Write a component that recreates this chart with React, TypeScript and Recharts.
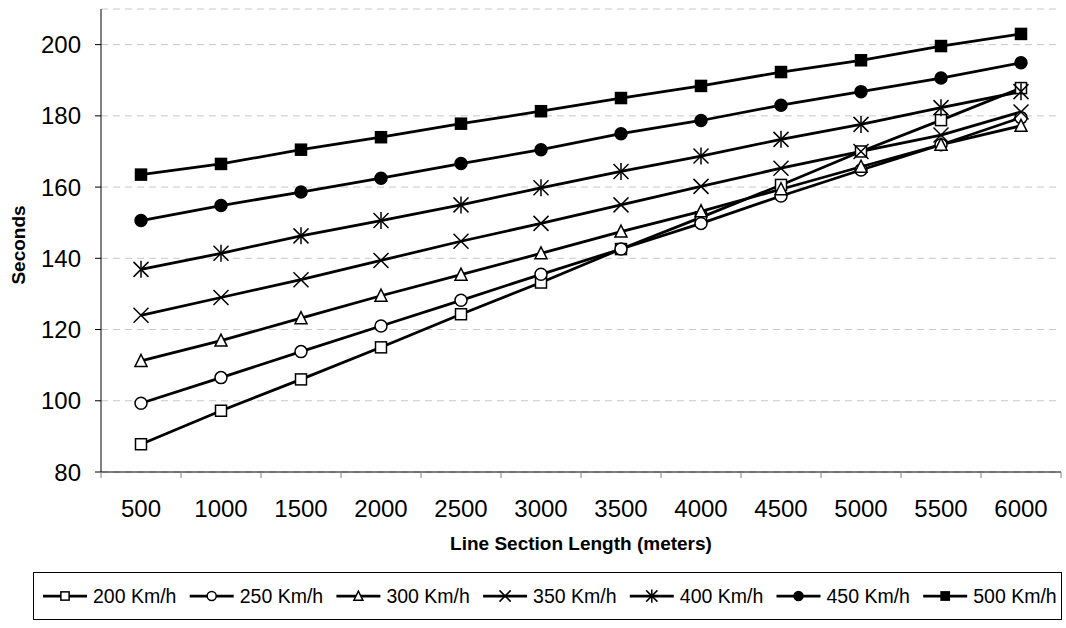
import React from 'react';
import { LineChart, Line, XAxis, YAxis, CartesianGrid, Legend } from 'recharts';

const lengths = [500, 1000, 1500, 2000, 2500, 3000, 3500, 4000, 4500, 5000, 5500, 6000];
const s200 = [87.8, 97.2, 106.0, 115.0, 124.3, 133.2, 142.6, 151.5, 160.6, 170.0, 178.8, 187.8];
const s250 = [99.3, 106.5, 113.8, 121.0, 128.2, 135.5, 142.6, 149.8, 157.5, 164.8, 171.9, 179.5];
const s300 = [111.2, 116.9, 123.2, 129.5, 135.4, 141.4, 147.5, 153.2, 159.4, 165.7, 171.9, 177.2];
const s350 = [124.0, 129.0, 134.0, 139.4, 144.8, 149.8, 155.0, 160.2, 165.3, 170.0, 174.6, 181.1];
const s400 = [136.9, 141.4, 146.3, 150.6, 155.0, 159.8, 164.4, 168.7, 173.4, 177.6, 182.3, 186.8];
const s450 = [150.6, 154.8, 158.6, 162.5, 166.6, 170.5, 175.0, 178.7, 183.0, 186.8, 190.6, 194.9];
const s500 = [163.5, 166.5, 170.5, 174.0, 177.8, 181.3, 185.0, 188.4, 192.3, 195.6, 199.6, 203.0];

const seriesNames = ['200 Km/h', '250 Km/h', '300 Km/h', '350 Km/h', '400 Km/h', '450 Km/h', '500 Km/h'];
const seriesKeys = ['s200', 's250', 's300', 's350', 's400', 's450', 's500'];
const seriesMarkers = ['squareOpen', 'circleOpen', 'triangleOpen', 'cross', 'asterisk', 'circleFilled', 'squareFilled'];
const seriesValues = [s200, s250, s300, s350, s400, s450, s500];

const yTicks = [80, 100, 120, 140, 160, 180, 200];
const xBoundaryTicks = [250, 750, 1250, 1750, 2250, 2750, 3250, 3750, 4250, 4750, 5250, 5750, 6250];

const data = lengths.map((len, i) => {
  const row: any = { len };
  seriesKeys.forEach((k, j) => { row[k] = seriesValues[j][i]; });
  return row;
});

const FONT = '"Liberation Sans", Arial, sans-serif';

function Marker({ type, cx, cy, scale = 1 }: { type: string; cx: number; cy: number; scale?: number }) {
  const sw = 1.5;
  if (type === 'squareOpen') {
    const h = 5.5 * scale;
    return <rect x={cx - h} y={cy - h} width={2 * h} height={2 * h} fill="#fff" stroke="#000" strokeWidth={sw} />;
  }
  if (type === 'squareFilled') {
    const h = 5.5 * scale;
    return <rect x={cx - h} y={cy - h} width={2 * h} height={2 * h} fill="#000" stroke="#000" strokeWidth={sw} />;
  }
  if (type === 'circleOpen') {
    return <circle cx={cx} cy={cy} r={6 * scale} fill="#fff" stroke="#000" strokeWidth={sw} />;
  }
  if (type === 'circleFilled') {
    return <circle cx={cx} cy={cy} r={6 * scale} fill="#000" stroke="#000" strokeWidth={sw} />;
  }
  if (type === 'triangleOpen') {
    const w = 6 * scale;
    const pts = `${cx},${cy - 6.5 * scale} ${cx - w},${cy + 5.5 * scale} ${cx + w},${cy + 5.5 * scale}`;
    return <polygon points={pts} fill="#fff" stroke="#000" strokeWidth={sw} />;
  }
  const d = 7.5 * scale;
  if (type === 'cross') {
    return (
      <g stroke="#000" strokeWidth={sw}>
        <line x1={cx - d} y1={cy - d} x2={cx + d} y2={cy + d} />
        <line x1={cx - d} y1={cy + d} x2={cx + d} y2={cy - d} />
      </g>
    );
  }
  // asterisk
  return (
    <g stroke="#000" strokeWidth={sw}>
      <line x1={cx - d} y1={cy - d} x2={cx + d} y2={cy + d} />
      <line x1={cx - d} y1={cy + d} x2={cx + d} y2={cy - d} />
      <line x1={cx} y1={cy - d - 1} x2={cx} y2={cy + d + 1} />
    </g>
  );
}

const XTick = (props: any) => {
  const { x, y, payload } = props;
  const v = payload.value;
  if (xBoundaryTicks.includes(v)) {
    return <line x1={x} y1={y} x2={x} y2={y + 6} stroke="#808080" strokeWidth={1} />;
  }
  return (
    <text x={x} y={y + 45} textAnchor="middle" fontSize={24} fontFamily={FONT} fill="#000">
      {v}
    </text>
  );
};

const renderLegend = () => {
  const W = 1029;
  const H = 48;
  const pitch = 146.7;
  return (
    <svg width={W} height={H} style={{ display: 'block' }}>
      <rect x={0.5} y={0.5} width={W - 1} height={H - 1} fill="#fff" stroke="#000" strokeWidth={1} />
      {seriesNames.map((name, i) => {
        const mx = 32 + i * pitch;
        const my = 24;
        return (
          <g key={name}>
            <line x1={mx - 22} y1={my} x2={mx + 22} y2={my} stroke="#000" strokeWidth={2.75} />
            <Marker type={seriesMarkers[i]} cx={mx} cy={my} scale={0.75} />
            <text x={mx + 28} y={my + 7} fontSize={19.5} fontFamily={FONT} fill="#000">
              {name}
            </text>
          </g>
        );
      })}
    </svg>
  );
};

export default function App() {
  return (
    <div style={{ position: 'absolute', left: 0, top: 0, width: 1066, height: 628, background: '#fff' }}>
      <LineChart width={1066} height={628} data={data} margin={{ top: 9, right: 5, left: 0, bottom: 8 }}>
        <CartesianGrid vertical={false} stroke="#c8c8c8" strokeDasharray="7 5" />
        <XAxis
          dataKey="len"
          type="number"
          domain={[250, 6250]}
          ticks={[...xBoundaryTicks, ...lengths].sort((a, b) => a - b)}
          interval={0}
          tick={XTick}
          tickLine={false}
          tickSize={0}
          tickMargin={0}
          axisLine={{ stroke: '#000', strokeWidth: 1 }}
          height={100}
          label={(p: any) => {
            const vb = p.viewBox;
            return (
              <text x={vb.x + vb.width / 2} y={vb.y + 78} textAnchor="middle" fontSize={19} fontWeight="bold" fontFamily={FONT} fill="#000">
                Line Section Length (meters)
              </text>
            );
          }}
        />
        <YAxis
          type="number"
          domain={[80, 210]}
          ticks={yTicks}
          interval={0}
          width={101}
          tickSize={6}
          tickMargin={14}
          tick={{ fontSize: 24, fontFamily: FONT, fill: '#000' }}
          tickLine={{ stroke: '#000' }}
          axisLine={{ stroke: '#000', strokeWidth: 1 }}
          label={(p: any) => {
            const vb = p.viewBox;
            const cx = 25;
            const cy = 245;
            return (
              <text x={cx} y={cy} transform={`rotate(-90 ${cx} ${cy})`} textAnchor="middle" fontSize={19} fontWeight="bold" fontFamily={FONT} fill="#000">
                Seconds
              </text>
            );
          }}
        />
        <Legend
          verticalAlign="bottom"
          content={renderLegend}
          wrapperStyle={{ left: 33, width: 1029, height: 48 }}
        />
        {seriesKeys.map((k, i) => (
          <Line
            key={k}
            dataKey={k}
            name={seriesNames[i]}
            stroke="#000"
            strokeWidth={2.75}
            isAnimationActive={false}
            dot={(p: any) => <Marker key={`${k}-${p.index}`} type={seriesMarkers[i]} cx={p.cx} cy={p.cy} />}
            activeDot={false}
          />
        ))}
      </LineChart>
    </div>
  );
}
